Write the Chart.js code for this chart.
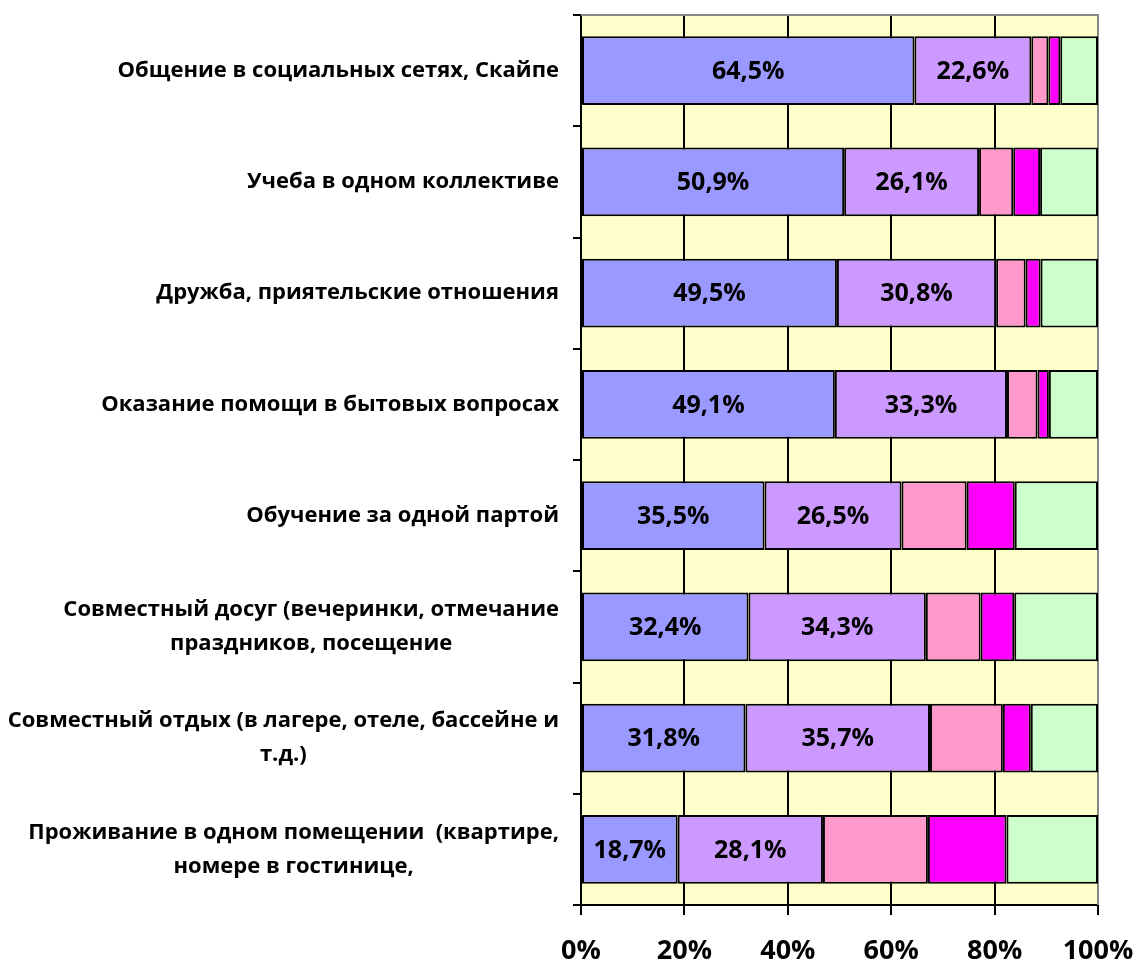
<!DOCTYPE html>
<html lang="ru">
<head>
<meta charset="utf-8">
<script src="https://cdn.jsdelivr.net/npm/chart.js@4"></script>
<style>
  html, body { margin: 0; padding: 0; background: #fff; }
  #wrap { width: 1137px; height: 965px; position: relative; }
</style>
</head>
<body>
<div id="wrap"><canvas id="chart"></canvas></div>
<script>
// categories, top to bottom
const categories = [
    ['Общение в социальных сетях, Скайпе'],
    ['Учеба в одном коллективе'],
    ['Дружба, приятельские отношения'],
    ['Оказание помощи в бытовых вопросах'],
    ['Обучение за одной партой'],
    ['Совместный досуг (вечеринки, отмечание', 'праздников, посещение'],
    ['Совместный отдых (в лагере, отеле, бассейне и', 'т.д.)'],
    ['Проживание в одном помещении  (квартире,', 'номере в гостинице,']
];

// shares in %, one array per series
const series1 = [64.5, 50.9, 49.5, 49.1, 35.5, 32.4, 31.8, 18.7];
const series2 = [22.6, 26.1, 30.8, 33.3, 26.5, 34.3, 35.7, 28.1];
const series3 = [3.3, 6.6, 5.7, 5.9, 12.6, 10.6, 14.1, 20.3];
const series4 = [2.3, 5.2, 2.9, 2.2, 9.3, 6.5, 5.4, 15.2];
const series5 = [7.3, 11.2, 11.1, 9.5, 16.1, 16.2, 13.0, 17.7];

const seriesNames = ['Серия 1', 'Серия 2', 'Серия 3', 'Серия 4', 'Серия 5'];
const seriesColors = ['#9999FF', '#CC99FF', '#FF99CC', '#FF00FF', '#CCFFCC'];
const xTicks = [0, 20, 40, 60, 80, 100];

const FONT = '"Open Sans", "DejaVu Sans", sans-serif';

// plot background and frame
const plotBackground = {
    id: 'plotBackground',
    beforeDraw(chart) {
        const { ctx, chartArea: a } = chart;
        ctx.save();
        ctx.fillStyle = '#fff';
        ctx.fillRect(0, 0, chart.width, chart.height);
        ctx.fillStyle = '#FFFFCC';
        ctx.fillRect(a.left, a.top, a.right - a.left, a.bottom - a.top);
        ctx.restore();
    },
    beforeDatasetsDraw(chart) {
        const { ctx, chartArea: a } = chart;
        ctx.save();
        ctx.strokeStyle = '#888';
        ctx.lineWidth = 2;
        ctx.beginPath();
        ctx.moveTo(a.left, a.top);
        ctx.lineTo(a.right, a.top);
        ctx.lineTo(a.right, a.bottom);
        ctx.stroke();
        ctx.restore();
    }
};

// category labels: right edge on the axis, lines centred on each other
const categoryLabels = {
    id: 'categoryLabels',
    afterDraw(chart) {
        const { ctx } = chart;
        const y = chart.scales.y;
        ctx.save();
        ctx.font = 'bold 22px ' + FONT;
        ctx.fillStyle = '#000';
        ctx.textAlign = 'center';
        ctx.textBaseline = 'middle';
        const right = y.right - 22;
        const lineH = 34;
        categories.forEach((lines, i) => {
            const w = Math.max(...lines.map(l => ctx.measureText(l).width));
            const cx = right - w / 2;
            const yc = y.getPixelForTick(i);
            lines.forEach((ln, j) => {
                ctx.fillText(ln, cx, yc + (j - (lines.length - 1) / 2) * lineH);
            });
        });
        ctx.restore();
    }
};

// value labels on the first two series
const valueLabels = {
    id: 'valueLabels',
    afterDatasetsDraw(chart) {
        const { ctx } = chart;
        ctx.save();
        ctx.font = 'bold 25px ' + FONT;
        ctx.fillStyle = '#000';
        ctx.textAlign = 'center';
        ctx.textBaseline = 'middle';
        [0, 1].forEach(di => {
            const meta = chart.getDatasetMeta(di);
            const values = chart.data.datasets[di].data;
            meta.data.forEach((bar, i) => {
                const text = values[i].toFixed(1).replace('.', ',') + '%';
                ctx.fillText(text, (bar.x + bar.base) / 2, bar.y + 1);
            });
        });
        ctx.restore();
    }
};

const allSeries = [series1, series2, series3, series4, series5];

new Chart(document.getElementById('chart'), {
    type: 'bar',
    data: {
        labels: categories,
        datasets: allSeries.map((values, i) => ({
            label: seriesNames[i],
            data: values,
            backgroundColor: seriesColors[i],
            borderColor: '#000',
            borderWidth: 2,
            borderSkipped: false,
            categoryPercentage: 1,
            barPercentage: 0.62
        }))
    },
    options: {
        indexAxis: 'y',
        responsive: true,
        maintainAspectRatio: false,
        animation: false,
        layout: { padding: { top: 15, right: 39, left: 0, bottom: 0 } },
        plugins: {
            legend: { display: false },
            tooltip: { enabled: false }
        },
        scales: {
            x: {
                stacked: true,
                min: 0,
                max: 100,
                afterBuildTicks: scale => {
                    scale.ticks = xTicks.map(v => ({ value: v }));
                },
                afterFit: scale => {
                    scale.height = 60;
                    scale.paddingLeft = 0;
                    scale.paddingRight = 0;
                },
                ticks: {
                    color: '#000',
                    padding: 20,
                    font: { family: FONT, size: 27, weight: 'bold' },
                    callback: v => v + '%'
                },
                grid: {
                    color: c => (c.tick && c.tick.value === 100 ? '#888' : '#000'),
                    lineWidth: 2,
                    tickColor: '#000',
                    tickLength: 10
                },
                border: { color: '#000', width: 2 }
            },
            y: {
                stacked: true,
                afterFit: scale => { scale.width = 581; },
                ticks: { display: false },
                grid: {
                    drawOnChartArea: false,
                    color: '#000',
                    tickLength: 8,
                    lineWidth: 2,
                    offset: true
                },
                border: { color: '#000', width: 2 }
            }
        }
    },
    plugins: [plotBackground, categoryLabels, valueLabels]
});
</script>
</body>
</html>
